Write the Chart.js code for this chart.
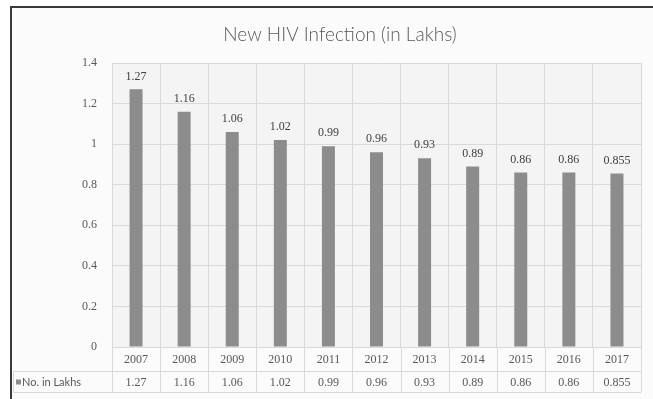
<!DOCTYPE html>
<html>
<head>
<meta charset="utf-8">
<script src="https://cdn.jsdelivr.net/npm/chart.js@4/dist/chart.umd.min.js"></script>
<style>
  html, body { margin: 0; padding: 0; background: #ffffff; }
  #wrap { position: relative; width: 653px; height: 399px; }
</style>
</head>
<body>
<div id="wrap"><canvas id="myChart" width="653" height="399"></canvas></div>
<script>
const years = ["2007", "2008", "2009", "2010", "2011", "2012", "2013", "2014", "2015", "2016", "2017"];
const infections = [1.27, 1.16, 1.06, 1.02, 0.99, 0.96, 0.93, 0.89, 0.86, 0.86, 0.855];
const seriesName = "No. in Lakhs";
const chartTitle = "New HIV Infection (in Lakhs)";

const serif = "'Liberation Serif', 'DejaVu Serif', serif";
const sans = "Lato, 'Open Sans', sans-serif";
const gridColor = "#d9d9d9";
const textColor = "#595959";
const barColor = "#8c8c8c";

// frame, plot background and title
const framePlugin = {
  id: "frame",
  beforeDraw(chart) {
    const { ctx, chartArea: a } = chart;
    ctx.save();
    ctx.fillStyle = "#fbfbfb";
    ctx.fillRect(12, 8, 641, 391);
    ctx.fillStyle = "#f4f4f4";
    ctx.fillRect(a.left, a.top, a.right - a.left, a.bottom - a.top);
    ctx.strokeStyle = "#3a3a3a";
    ctx.lineWidth = 2;
    ctx.beginPath();
    ctx.moveTo(11, 399);
    ctx.lineTo(11, 7);
    ctx.lineTo(653, 7);
    ctx.stroke();
    ctx.fillStyle = textColor;
    ctx.font = "300 19px " + sans;
    ctx.textAlign = "center";
    ctx.textBaseline = "middle";
    ctx.fillText(chartTitle, 340, 35);
    ctx.restore();
  }
};

// value labels above bars and the data table under the axis
const tablePlugin = {
  id: "dataTable",
  afterDatasetsDraw(chart) {
    const { ctx, chartArea: a, scales } = chart;
    const x = scales.x, y = scales.y;
    const step = (a.right - a.left) / years.length;
    const row1 = a.bottom + 24, row2 = row1 + 21;
    ctx.save();

    ctx.fillStyle = "#404040";
    ctx.font = "12px " + serif;
    ctx.textAlign = "center";
    ctx.textBaseline = "bottom";
    infections.forEach((v, i) => {
      ctx.fillText(String(v), x.getPixelForValue(i), y.getPixelForValue(v) - 7);
    });

    ctx.strokeStyle = gridColor;
    ctx.lineWidth = 1;
    ctx.beginPath();
    for (let i = 0; i <= years.length; i++) {
      const px = Math.round(a.left + i * step) + 0.5;
      ctx.moveTo(px, a.bottom);
      ctx.lineTo(px, row2);
    }
    ctx.moveTo(13, row1 + 0.5);
    ctx.lineTo(a.right, row1 + 0.5);
    ctx.moveTo(13, row2 + 0.5);
    ctx.lineTo(a.right, row2 + 0.5);
    ctx.moveTo(13.5, row1);
    ctx.lineTo(13.5, row2);
    ctx.stroke();

    ctx.fillStyle = textColor;
    ctx.font = "12px " + serif;
    ctx.textBaseline = "middle";
    years.forEach((yr, i) => {
      const cx = x.getPixelForValue(i);
      ctx.fillText(yr, cx, (a.bottom + row1) / 2 + 1);
      ctx.fillText(String(infections[i]), cx, (row1 + row2) / 2 + 1);
    });

    ctx.fillStyle = barColor;
    ctx.fillRect(16, (row1 + row2) / 2 - 2, 5, 5);
    ctx.fillStyle = textColor;
    ctx.font = "11px " + sans;
    ctx.textAlign = "left";
    ctx.fillText(seriesName, 22, (row1 + row2) / 2 + 1);
    ctx.restore();
  }
};

const data = {
  labels: years,
  datasets: [
    {
      label: seriesName,
      backgroundColor: barColor,
      data: infections,
      barPercentage: 0.27,
      categoryPercentage: 1,
    },
  ],
};

const config = {
  type: "bar",
  data: data,
  plugins: [framePlugin, tablePlugin],
  options: {
    responsive: false,
    animation: false,
    layout: {
      padding: { top: 63, left: 12, right: 12, bottom: 52 },
    },
    scales: {
      x: {
        grid: { offset: true, color: gridColor, drawTicks: false },
        border: { color: gridColor },
        ticks: { display: false },
      },
      y: {
        min: 0,
        max: 1.4,
        afterFit: (s) => { s.width = 100; },
        grid: { color: gridColor, drawTicks: false },
        border: { display: false },
        ticks: {
          stepSize: 0.2,
          padding: 15,
          color: textColor,
          font: { family: serif, size: 12 },
          callback: (v) => String(Number(v.toFixed(1))),
        },
      },
    },
    plugins: {
      legend: { display: false },
      tooltip: { enabled: false },
    },
  },
};

const myChart = new Chart(document.querySelector("#myChart"), config);
</script>
</body>
</html>
